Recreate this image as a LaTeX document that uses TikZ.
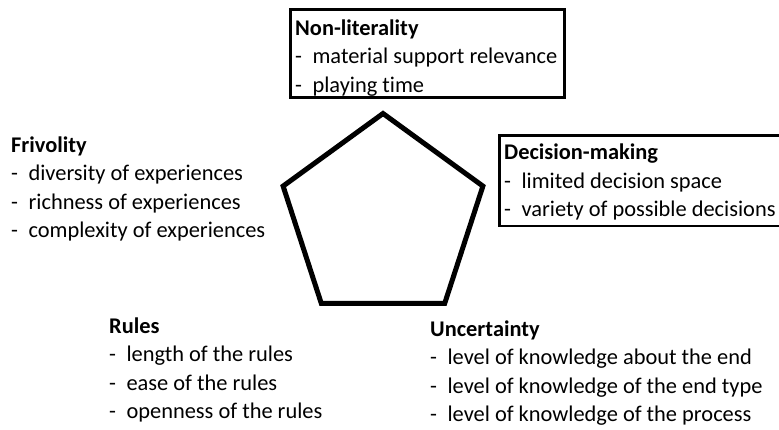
\documentclass[tikz,border=0pt]{standalone}
\usepackage{fontspec}
\setmainfont{Carlito}[Ligatures=NoCommon]

\newcommand{\itm}[1]{-\hspace{0.47em}#1}

\tikzset{
    txt/.style={font=\fontsize{22.4}{28.5}\selectfont, anchor=base west, inner sep=0pt},
    head/.style={txt, font=\fontsize{22.4}{28.5}\selectfont\bfseries},
    framebox/.style={line width=2.8pt}
}

\begin{document}
\begin{tikzpicture}[x=1pt,y=-1pt]
        \useasboundingbox (0,0) rectangle (779,429);

        % pentagon
        \coordinate (top) at (383,113.5);
        \coordinate (right) at (482.9,186.1);
        \coordinate (bright) at (444.7,303.4);
        \coordinate (bleft) at (321.3,303.4);
        \coordinate (left) at (283.1,186.1);
        \draw [line width=5pt, line join=miter] (top) -- (right) -- (bright) -- (bleft) -- (left) -- cycle;

        % boxes
        \draw [framebox] (290.3,9.3) rectangle (564.8,97.8);
        \draw [framebox] (499.3,135.3) rectangle (785,226);

        \node [head] (nonlit) at (295,35) {Non-literality};
        \node [txt] (nonlit1) at (295,63.5) {\itm{material support relevance}};
        \node [txt] (nonlit2) at (295,92) {\itm{playing time}};

        \node [head] (dec) at (504,159.5) {Decision-making};
        \node [txt] (dec1) at (504,188) {\itm{limited decision space}};
        \node [txt] (dec2) at (504,216.5) {\itm{variety of possible decisions}};

        \node [head] (friv) at (11,152) {Frivolity};
        \node [txt] (friv1) at (11,180.5) {\itm{diversity of experiences}};
        \node [txt] (friv2) at (11,209) {\itm{richness of experiences}};
        \node [txt] (friv3) at (11,237.5) {\itm{complexity of experiences}};

        \node [head] (rules) at (109,333) {Rules};
        \node [txt] (rules1) at (109,361.5) {\itm{length of the rules}};
        \node [txt] (rules2) at (109,390) {\itm{ease of the rules}};
        \node [txt] (rules3) at (109,418.5) {\itm{openness of the rules}};

        \node [head] (unc) at (430,336) {Uncertainty};
        \node [txt] (unc1) at (430,364.5) {\itm{level of knowledge about the end}};
        \node [txt] (unc2) at (430,393) {\itm{level of knowledge of the end type}};
        \node [txt] (unc3) at (430,421.5) {\itm{level of knowledge of the process}};
    \end{tikzpicture}
\end{document}
